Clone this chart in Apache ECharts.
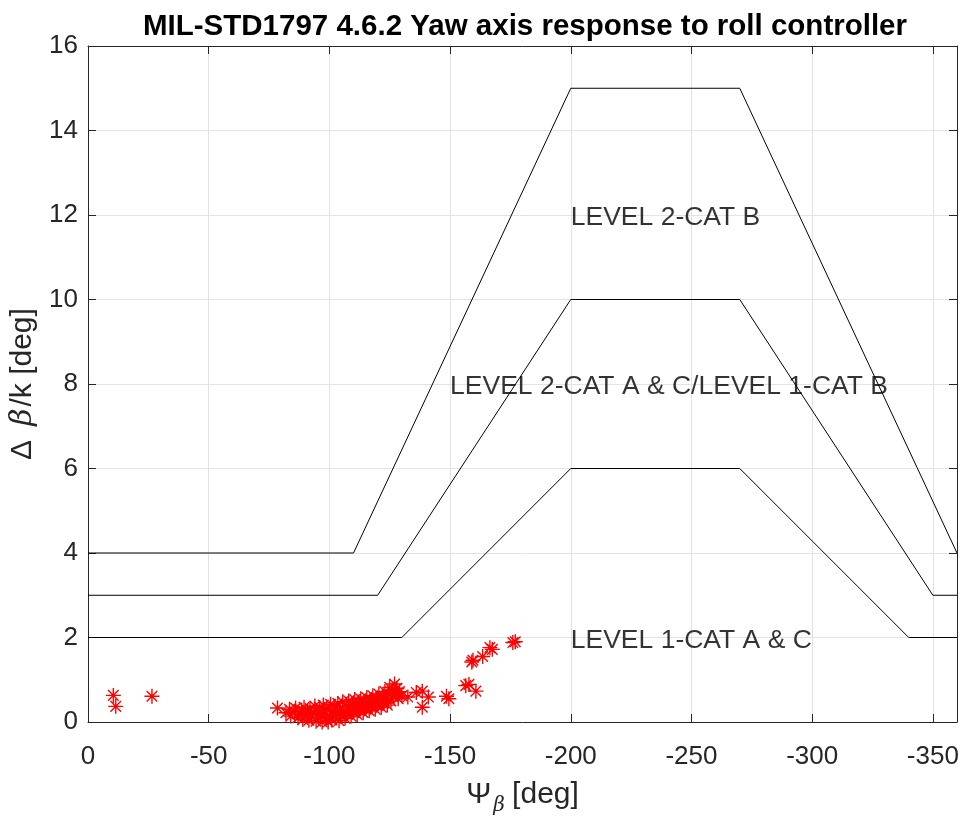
<!DOCTYPE html>
<html>
<head>
<meta charset="utf-8">
<script src="https://cdn.jsdelivr.net/npm/echarts@6/dist/echarts.min.js"></script>
<style>
  html, body { margin: 0; padding: 0; background: #fff; }
  #chart { width: 963px; height: 821px; }
</style>
</head>
<body>
<div id="chart"></div>
<script>
// Tick positions on the sideslip phase axis
const xTickValues = [0, -50, -100, -150, -200, -250, -300, -350];

// Boundary lines between handling-quality levels
const level2CatBPsi = [0, -110, -200, -270, -360];
const level2CatBVal = [4, 4, 15, 15, 4];
const level2CatACPsi = [0, -120, -200, -270, -350, -360];
const level2CatACVal = [3, 3, 10, 10, 3, 3];
const level1CatACPsi = [0, -130, -200, -270, -340, -360];
const level1CatACVal = [2, 2, 6, 6, 2, 2];

// Region captions and their anchor points
const regionNames = ['LEVEL 2-CAT B', 'LEVEL 2-CAT A & C/LEVEL 1-CAT B', 'LEVEL 1-CAT A & C'];
const regionPsi = [-200, -150, -200];
const regionVal = [12, 8, 2];

// Measured yaw response (phase vs. normalized sideslip excursion)
const testPsi = [
  -10.5, -11.5, -26.5, -78.5, -82, -83.5, -84, -85.5, -86, -87, -87.5, -88.5, -89, -89.5,
  -90.5, -91, -91.5, -92, -92.5, -93.5, -94, -94.5, -95, -95.5, -96, -96.5, -97, -97.5,
  -98, -98.5, -99, -99.5, -100, -100.5, -101, -101.5, -102, -102.5, -103, -103.5, -104,
  -104.5, -105, -105.5, -106, -106.5, -107, -107.5, -108, -108.5, -109, -109.5, -110,
  -110.5, -111, -111.5, -112, -112.5, -113, -113.5, -114, -114.5, -115, -115.5, -116,
  -116.5, -117, -117.5, -118, -118.5, -119, -119.5, -120, -120.5, -121, -121.5, -122,
  -122.5, -123, -123.5, -124, -124.5, -125, -125.5, -126, -126.5, -127, -127.5, -128,
  -128.5, -129, -130, -132.5, -136, -138.5, -141, -138.5, -148.5, -149.5, -156.5, -157.8,
  -160.7, -159, -159.5, -163.5, -166.5, -167.5, -176, -177
];
const testVal = [
  0.63, 0.37, 0.61, 0.33, 0.22, 0.30, 0.14, 0.25, 0.33, 0.10, 0.20, 0.28, 0.06, 0.35,
  0.16, 0.25, 0.04, 0.32, 0.12, 0.20, 0.38, 0.02, 0.27, 0.10, 0.34, 0.18, 0.00, 0.40,
  0.24, 0.08, 0.31, 0.00, 0.15, 0.42, 0.05, 0.27, 0.36, 0.12, 0.20, 0.44, 0.03,
  0.30, 0.16, 0.48, 0.24, 0.09, 0.38, 0.20, 0.50, 0.30, 0.14, 0.42, 0.25,
  0.53, 0.35, 0.18, 0.46, 0.28, 0.55, 0.38, 0.22, 0.48, 0.32, 0.58, 0.42,
  0.27, 0.52, 0.36, 0.62, 0.45, 0.30, 0.56, 0.40, 0.66, 0.50, 0.35, 0.60,
  0.45, 0.72, 0.55, 0.40, 0.66, 0.82, 0.50, 0.74, 0.60, 0.90, 0.68, 0.80,
  0.55, 0.72, 0.62, 0.59, 0.70, 0.73, 0.59, 0.35, 0.61, 0.55, 0.86, 0.89,
  0.73, 1.42, 1.46, 1.55, 1.76, 1.72, 1.88, 1.90
];

const zip = (xs, ys) => xs.map((x, i) => [x, ys[i]]);

const AXIS = '#262626';
const GRID = '#e3e3e3';
const FONT = 'Liberation Sans, Arial, Helvetica, sans-serif';

// Eight-spoke asterisk marker
const asterisk = 'path://M10 0L10 20M0 10L20 10M2.93 2.93L17.07 17.07M2.93 17.07L17.07 2.93';

const boundaryLine = (name, xs, ys) => ({
  name, type: 'line', data: zip(xs, ys), symbol: 'none', silent: true,
  lineStyle: { color: '#000', width: 1 }, z: 3
});

const chart = echarts.init(document.getElementById('chart'), null, { renderer: 'canvas' });

chart.setOption({
  animation: false,
  backgroundColor: '#fff',
  title: {
    text: 'MIL-STD1797 4.6.2 Yaw axis response to roll controller',
    left: 520, textAlign: 'center', top: 7,
    textStyle: { fontFamily: FONT, fontSize: 29.5, fontWeight: 'bold', color: '#000' }
  },
  grid: { left: 88, right: 6, top: 46, bottom: 93, containLabel: false },
  xAxis: [
    {
      type: 'value', min: -360, max: 0, inverse: true, position: 'bottom',
      name: '{p|Ψ}{s|β} {p|[deg]}', nameLocation: 'middle', nameGap: 52,
      nameTextStyle: {
        rich: {
          p: { fontFamily: FONT, fontSize: 30, color: AXIS },
          s: { fontFamily: 'DejaVu Serif, serif', fontStyle: 'italic', fontSize: 20, color: AXIS, padding: [22, 4, 0, 2] }
        }
      },
      axisLine: { show: true, onZero: false, lineStyle: { color: AXIS, width: 1 } },
      axisTick: { show: true, inside: true, length: 8, customValues: xTickValues, lineStyle: { color: AXIS } },
      axisLabel: { customValues: xTickValues, fontFamily: FONT, fontSize: 26, color: AXIS, margin: 22 },
      splitLine: { show: true, customValues: xTickValues, lineStyle: { color: GRID, width: 1 } }
    },
    {
      type: 'value', min: -360, max: 0, inverse: true, position: 'top',
      axisLine: { show: true, onZero: false, lineStyle: { color: AXIS, width: 1 } },
      axisTick: { show: true, inside: true, length: 8, customValues: xTickValues, lineStyle: { color: AXIS } },
      axisLabel: { show: false },
      splitLine: { show: false }
    }
  ],
  yAxis: [
    {
      type: 'value', min: 0, max: 16, interval: 2, position: 'left',
      name: '{p|Δ}{b|β}{p|/k [deg]}', nameLocation: 'middle', nameGap: 50,
      nameTextStyle: {
        rich: {
          p: { fontFamily: FONT, fontSize: 30, color: AXIS },
          b: { fontFamily: 'DejaVu Serif, serif', fontStyle: 'italic', fontSize: 30, color: AXIS, padding: [0, 2, 0, 14] }
        }
      },
      axisLine: { show: true, onZero: false, lineStyle: { color: AXIS, width: 1 } },
      axisTick: { show: true, inside: true, length: 8, lineStyle: { color: AXIS } },
      axisLabel: { fontFamily: FONT, fontSize: 26, color: AXIS, margin: 10 },
      splitLine: { show: true, lineStyle: { color: GRID, width: 1 } }
    },
    {
      type: 'value', min: 0, max: 16, interval: 2, position: 'right',
      axisLine: { show: true, onZero: false, lineStyle: { color: AXIS, width: 1 } },
      axisTick: { show: true, inside: true, length: 8, lineStyle: { color: AXIS } },
      axisLabel: { show: false },
      splitLine: { show: false }
    }
  ],
  series: [
    boundaryLine('Level 2 Cat B', level2CatBPsi, level2CatBVal),
    boundaryLine('Level 2 Cat A&C / Level 1 Cat B', level2CatACPsi, level2CatACVal),
    boundaryLine('Level 1 Cat A&C', level1CatACPsi, level1CatACVal),
    {
      name: 'Regions', type: 'scatter', silent: true, symbolSize: 0,
      data: regionNames.map((n, i) => ({ name: n, value: [regionPsi[i], regionVal[i]] })),
      label: {
        show: true, position: 'right', distance: 0, offset: [0, 3], formatter: p => p.name,
        fontFamily: FONT, fontSize: 26.5, color: '#000'
      },
      z: 4
    },
    {
      name: 'Test points', type: 'scatter', silent: true,
      data: zip(testPsi, testVal),
      symbol: asterisk, symbolSize: 15,
      itemStyle: { color: 'rgba(0,0,0,0)', borderColor: '#ff0000', borderWidth: 1.4, opacity: 1 },
      clip: true, z: 5
    }
  ]
});
</script>
</body>
</html>
